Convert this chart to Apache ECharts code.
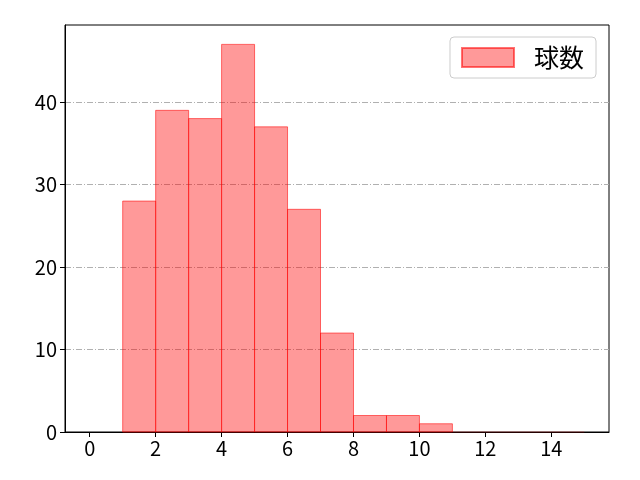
<!DOCTYPE html>
<html>
<head>
<meta charset="utf-8">
<script src="https://cdn.jsdelivr.net/npm/echarts@6/dist/echarts.min.js"></script>
<style>
  html, body { margin: 0; padding: 0; background: #fff; }
  #chart { width: 640px; height: 480px; }
</style>
</head>
<body>
<div id="chart"></div>
<script>
// histogram bins (left edge, right edge) and counts
var binStart = [1, 2, 3, 4, 5, 6, 7, 8, 9, 10, 11, 12, 13, 14]
var binEnd = [2, 3, 4, 5, 6, 7, 8, 9, 10, 11, 12, 13, 14, 15]
var counts = [28, 39, 38, 47, 37, 27, 12, 2, 2, 1, 0, 0, 0, 0]
var xTicks = [0, 2, 4, 6, 8, 10, 12, 14]
var yTicks = [0, 10, 20, 30, 40]
var seriesName = '球数'

var data = []
for (let i in counts) {
    data.push([binStart[i], binEnd[i], counts[i]])
}

var font = '"Noto Sans CJK JP", "DejaVu Sans", sans-serif'

var chart = echarts.init(document.getElementById('chart'))
chart.setOption({
    animation: false,
    grid: {
        left: 65, right: 31, top: 25, bottom: 48,
        show: true, borderColor: '#000', borderWidth: 1
    },
    legend: {
        data: [{ name: seriesName, icon: 'rect' }],
        right: 44, top: 37,
        itemWidth: 52, itemHeight: 19, itemGap: 10,
        padding: [8, 12, 8, 11],
        borderColor: '#cccccc', borderWidth: 1, borderRadius: 4,
        textStyle: { fontSize: 25, fontFamily: font, color: '#000', padding: [0, 0, 0, 15] }
    },
    xAxis: {
        type: 'value',
        min: -0.75, max: 15.75,
        axisLine: { show: true, onZero: false, lineStyle: { color: '#000' } },
        axisTick: { show: true, customValues: xTicks, length: 5, lineStyle: { color: '#000' } },
        axisLabel: { customValues: xTicks, fontSize: 20, fontFamily: font, color: '#000', margin: 6 },
        splitLine: { show: false }
    },
    yAxis: {
        type: 'value',
        min: 0, max: 49.35,
        axisLine: { show: true, onZero: false, lineStyle: { color: '#000' } },
        axisTick: { show: true, customValues: yTicks, length: 5, lineStyle: { color: '#000' } },
        axisLabel: { customValues: yTicks, fontSize: 20, fontFamily: font, color: '#000', margin: 8 },
        splitLine: {
            show: true,
            lineStyle: { color: '#b0b0b0', width: 1, type: [6, 2, 1, 2] }
        }
    },
    series: [{
        name: seriesName,
        type: 'custom',
        itemStyle: {
            color: 'rgba(255,0,0,0.4)',
            borderColor: 'rgba(255,0,0,0.55)',
            borderWidth: 1
        },
        encode: { x: [0, 1], y: 2 },
        renderItem: function (params, api) {
            var p0 = api.coord([api.value(0), api.value(2)])
            var p1 = api.coord([api.value(1), 0])
            var style = api.style()
            if (api.value(2) === 0) {
                style.stroke = 'rgba(255,0,0,0.15)'
            }
            return {
                type: 'rect',
                shape: { x: p0[0], y: p0[1], width: p1[0] - p0[0], height: p1[1] - p0[1] },
                style: style
            }
        },
        data: data
    }]
})
</script>
</body>
</html>
